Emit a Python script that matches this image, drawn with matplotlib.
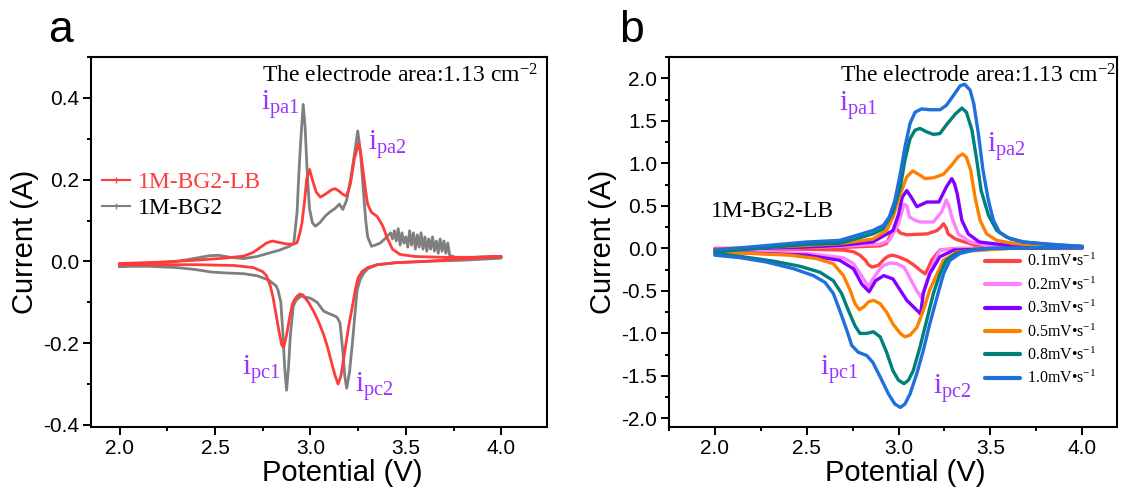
import matplotlib
matplotlib.use("Agg")
import matplotlib.pyplot as plt
from matplotlib.lines import Line2D
from matplotlib.ticker import MultipleLocator, FuncFormatter

plt.rcParams['font.family'] = ['Liberation Sans', 'DejaVu Sans']
plt.rcParams['mathtext.fontset'] = 'custom'
plt.rcParams['mathtext.rm'] = 'Liberation Serif'
plt.rcParams['mathtext.it'] = 'Liberation Serif:italic'
plt.rcParams['mathtext.bf'] = 'Liberation Serif:bold'

# ---------------- Panel a data ----------------
a_bg2_x = [2.00, 2.10, 2.20, 2.30, 2.40, 2.47, 2.52, 2.58, 2.65, 2.72, 2.78, 2.84, 2.89, 2.913,
           2.93, 2.94, 2.95, 2.962, 2.972, 2.983, 2.995, 3.01, 3.026, 3.05, 3.08, 3.10, 3.13,
           3.152, 3.17, 3.19, 3.21, 3.23, 3.248, 3.262, 3.277, 3.29, 3.30, 3.32, 3.34, 3.366,
           3.39, 3.42, 3.43, 3.44, 3.45, 3.46, 3.47, 3.48, 3.49, 3.50, 3.51, 3.52, 3.53, 3.54,
           3.55, 3.56, 3.57, 3.58, 3.59, 3.60, 3.61, 3.62, 3.63, 3.64, 3.65, 3.66, 3.67, 3.68,
           3.69, 3.70, 3.71, 3.72, 3.73, 3.76, 3.85, 3.95, 4.00,
           4.00, 3.80, 3.60, 3.45, 3.35, 3.30, 3.277, 3.26, 3.245, 3.235, 3.22, 3.205, 3.19,
           3.18, 3.17, 3.155, 3.14, 3.13, 3.10, 3.07, 3.035, 3.00, 2.95, 2.925, 2.91, 2.895,
           2.885, 2.875, 2.865, 2.855, 2.845, 2.83, 2.82, 2.78, 2.72, 2.65, 2.55, 2.48, 2.40,
           2.30, 2.15, 2.00]
a_bg2_y = [-0.012, -0.008, -0.004, 0.000, 0.008, 0.014, 0.015, 0.010, 0.007, 0.012, 0.020,
           0.028, 0.037, 0.045, 0.12, 0.22, 0.30, 0.384, 0.33, 0.22, 0.13, 0.095, 0.086, 0.095,
           0.112, 0.12, 0.13, 0.14, 0.127, 0.15, 0.20, 0.26, 0.319, 0.27, 0.176, 0.10, 0.06,
           0.037, 0.040, 0.045, 0.055, 0.07, 0.055, 0.075, 0.05, 0.08, 0.04, 0.07, 0.045, 0.06,
           0.035, 0.075, 0.04, 0.07, 0.03, 0.065, 0.035, 0.07, 0.03, 0.06, 0.025, 0.055, 0.03,
           0.06, 0.025, 0.05, 0.02, 0.055, 0.025, 0.05, 0.02, 0.045, 0.015, 0.01, 0.01, 0.012,
           0.012,
           0.008, 0.003, 0.0, -0.003, -0.008, -0.018, -0.03, -0.045, -0.07, -0.12, -0.20, -0.27,
           -0.31, -0.28, -0.22, -0.15, -0.137, -0.134, -0.128, -0.122, -0.10, -0.09, -0.085,
           -0.095, -0.11, -0.18, -0.26, -0.315, -0.26, -0.17, -0.10, -0.07, -0.06, -0.045,
           -0.035, -0.03, -0.028, -0.026, -0.02, -0.015, -0.012, -0.012]

a_lb_x = [2.00, 2.20, 2.40, 2.55, 2.65, 2.70, 2.74, 2.77, 2.80, 2.83, 2.87, 2.91, 2.93, 2.945,
          2.956, 2.97, 2.98, 2.996, 3.01, 3.03, 3.052, 3.08, 3.11, 3.13, 3.15, 3.17, 3.19,
          3.21, 3.23, 3.253, 3.265, 3.277, 3.29, 3.30, 3.32, 3.35, 3.38, 3.40, 3.43, 3.47,
          3.55, 3.70, 3.85, 4.00,
          4.00, 3.80, 3.60, 3.45, 3.35, 3.30, 3.27, 3.25, 3.235, 3.22, 3.20, 3.18, 3.16, 3.145,
          3.13, 3.115, 3.09, 3.07, 3.045, 3.02, 2.99, 2.96, 2.945, 2.93, 2.915, 2.905, 2.89,
          2.875, 2.86, 2.85, 2.835, 2.82, 2.805, 2.79, 2.77, 2.75, 2.70, 2.60, 2.40, 2.20, 2.00]
a_lb_y = [-0.005, -0.002, 0.003, 0.008, 0.013, 0.022, 0.035, 0.045, 0.05, 0.047, 0.043, 0.042,
          0.046, 0.07, 0.095, 0.15, 0.20, 0.225, 0.20, 0.17, 0.157, 0.165, 0.175, 0.178, 0.172,
          0.164, 0.16, 0.19, 0.25, 0.29, 0.26, 0.218, 0.17, 0.14, 0.12, 0.11, 0.086, 0.06,
          0.03, 0.017, 0.012, 0.01, 0.01, 0.012,
          0.012, 0.006, 0.0, -0.003, -0.008, -0.015, -0.025, -0.04, -0.07, -0.11, -0.16, -0.22,
          -0.28, -0.30, -0.28, -0.255, -0.21, -0.18, -0.15, -0.125, -0.10, -0.082, -0.08,
          -0.085, -0.095, -0.105, -0.14, -0.18, -0.21, -0.205, -0.17, -0.13, -0.09, -0.06,
          -0.035, -0.025, -0.015, -0.01, -0.008, -0.008, -0.008]

# ---------------- Panel b data (1M-BG2-LB at several scan rates) ----------------
rate_labels = ['0.1mV\u2022s$^{-1}$', '0.2mV\u2022s$^{-1}$', '0.3mV\u2022s$^{-1}$',
               '0.5mV\u2022s$^{-1}$', '0.8mV\u2022s$^{-1}$', '1.0mV\u2022s$^{-1}$']
rate_colors = ['#ff4444', '#ff80ff', '#8000ff', '#ff8000', '#00807a', '#1f6fdc']

b01_x = [2.00, 2.40, 2.68, 2.90, 2.935, 2.955, 2.97, 2.99, 3.01, 3.045, 3.10, 3.155, 3.21,
         3.23, 3.245, 3.26, 3.27, 3.31, 3.36, 3.44, 3.60, 4.00,
         4.00, 3.60, 3.32, 3.225, 3.18, 3.16, 3.145, 3.12, 3.08, 3.045, 3.00, 2.97, 2.945,
         2.925, 2.89, 2.855, 2.835, 2.82, 2.79, 2.755, 2.70, 2.50, 2.00]
b01_y = [0.0, 0.005, 0.01, 0.03, 0.06, 0.15, 0.21, 0.23, 0.18, 0.16, 0.165, 0.17, 0.21, 0.25,
         0.29, 0.24, 0.17, 0.11, 0.075, 0.024, 0.015, 0.01,
         0.0, 0.0, 0.0, -0.02, -0.14, -0.24, -0.30, -0.26, -0.19, -0.14, -0.10, -0.08, -0.09,
         -0.12, -0.20, -0.22, -0.19, -0.14, -0.08, -0.04, -0.02, -0.01, -0.005]

b02_x = [2.00, 2.40, 2.68, 2.90, 2.95, 3.00, 3.03, 3.045, 3.06, 3.09, 3.12, 3.19, 3.235,
         3.26, 3.275, 3.29, 3.325, 3.39, 3.50, 4.00,
         4.00, 3.60, 3.30, 3.225, 3.18, 3.145, 3.125, 3.10, 3.08, 3.03, 2.99, 2.955, 2.92,
         2.90, 2.86, 2.835, 2.81, 2.78, 2.755, 2.70, 2.50, 2.00]
b02_y = [-0.01, 0.005, 0.025, 0.05, 0.094, 0.29, 0.52, 0.50, 0.37, 0.33, 0.31, 0.31, 0.43,
         0.57, 0.50, 0.37, 0.17, 0.075, 0.03, 0.015,
         0.01, 0.005, -0.005, -0.02, -0.22, -0.45, -0.58, -0.50, -0.42, -0.22, -0.18, -0.17,
         -0.20, -0.24, -0.36, -0.45, -0.36, -0.26, -0.18, -0.11, -0.06, -0.02]

b03_x = [2.00, 2.50, 2.68, 2.86, 2.97, 3.00, 3.02, 3.045, 3.07, 3.10, 3.155, 3.22, 3.26,
         3.29, 3.305, 3.32, 3.345, 3.38, 3.44, 3.60, 4.00,
         4.00, 3.60, 3.30, 3.225, 3.17, 3.135, 3.12, 3.045, 2.97, 2.92, 2.875, 2.84, 2.80,
         2.755, 2.68, 2.50, 2.00]
b03_y = [-0.015, 0.016, 0.035, 0.075, 0.21, 0.40, 0.60, 0.68, 0.60, 0.49, 0.545, 0.545,
         0.72, 0.82, 0.76, 0.64, 0.33, 0.17, 0.075, 0.035, 0.02,
         0.01, 0.0, -0.02, -0.10, -0.30, -0.53, -0.77, -0.61, -0.36, -0.32, -0.38, -0.51,
         -0.42, -0.24, -0.14, -0.08, -0.04]

b05_x = [2.00, 2.50, 2.68, 2.86, 2.935, 2.97, 3.01, 3.045, 3.077, 3.11, 3.145, 3.19, 3.244,
         3.29, 3.326, 3.35, 3.37, 3.393, 3.417, 3.444, 3.48, 3.535, 3.62, 3.77, 4.00,
         4.00, 3.60, 3.32, 3.244, 3.21, 3.17, 3.135, 3.10, 3.063, 3.035, 3.01, 2.97, 2.935,
         2.90, 2.863, 2.836, 2.81, 2.787, 2.763, 2.736, 2.70, 2.645, 2.554, 2.41, 2.00]
b05_y = [-0.02, 0.035, 0.055, 0.11, 0.21, 0.37, 0.64, 0.84, 0.91, 0.87, 0.82, 0.83, 0.87,
         0.98, 1.08, 1.11, 1.07, 0.92, 0.60, 0.33, 0.17, 0.094, 0.06, 0.035, 0.02,
         0.01, 0.0, -0.04, -0.14, -0.30, -0.49, -0.73, -0.93, -1.02, -1.04, -1.00, -0.89,
         -0.75, -0.65, -0.61, -0.63, -0.69, -0.72, -0.65, -0.49, -0.32, -0.18, -0.12, -0.08,
         -0.04]

b08_x = [2.00, 2.50, 2.68, 2.86, 2.917, 2.97, 3.01, 3.035, 3.063, 3.09, 3.117, 3.153, 3.19,
         3.226, 3.26, 3.31, 3.345, 3.37, 3.40, 3.426, 3.45, 3.49, 3.535, 3.59, 3.68, 3.85,
         4.00,
         4.00, 3.50, 3.40, 3.317, 3.26, 3.226, 3.19, 3.153, 3.117, 3.08, 3.054, 3.03, 3.00,
         2.97, 2.935, 2.90, 2.863, 2.827, 2.79, 2.763, 2.727, 2.69, 2.645, 2.572, 2.463,
         2.318, 2.14, 2.00]
b08_y = [-0.04, 0.047, 0.06, 0.17, 0.23, 0.43, 0.72, 1.04, 1.29, 1.39, 1.41, 1.37, 1.34,
         1.35, 1.45, 1.58, 1.65, 1.60, 1.39, 1.04, 0.68, 0.39, 0.21, 0.13, 0.075, 0.04,
         0.024,
         0.01, 0.0, -0.015, -0.055, -0.14, -0.30, -0.53, -0.85, -1.16, -1.44, -1.55, -1.59,
         -1.55, -1.44, -1.22, -1.04, -0.98, -1.00, -1.00, -0.91, -0.73, -0.53, -0.38, -0.28,
         -0.21, -0.15, -0.095, -0.06]

b10_x = [2.00, 2.50, 2.68, 2.86, 2.917, 2.95, 2.98, 3.01, 3.035, 3.063, 3.09, 3.126, 3.17,
         3.226, 3.26, 3.30, 3.335, 3.36, 3.39, 3.41, 3.435, 3.46, 3.49, 3.517, 3.55, 3.61,
         3.68, 3.85, 4.00,
         4.00, 3.50, 3.41, 3.335, 3.28, 3.245, 3.21, 3.17, 3.135, 3.10, 3.063, 3.035, 3.01,
         2.98, 2.945, 2.90, 2.86, 2.827, 2.78, 2.745, 2.718, 2.68, 2.645, 2.60, 2.536, 2.43,
         2.28, 2.14, 2.00]
b10_y = [-0.02, 0.075, 0.094, 0.21, 0.27, 0.37, 0.56, 0.88, 1.19, 1.47, 1.60, 1.64, 1.63,
         1.63, 1.68, 1.80, 1.91, 1.93, 1.86, 1.70, 1.35, 0.92, 0.56, 0.33, 0.19, 0.11,
         0.075, 0.045, 0.024,
         0.01, 0.0, -0.02, -0.06, -0.14, -0.30, -0.57, -0.89, -1.20, -1.47, -1.71, -1.83,
         -1.87, -1.83, -1.71, -1.51, -1.34, -1.26, -1.22, -1.14, -0.96, -0.73, -0.53, -0.40,
         -0.32, -0.24, -0.16, -0.11, -0.08]

b_x = [b01_x, b02_x, b03_x, b05_x, b08_x, b10_x]
b_y = [b01_y, b02_y, b03_y, b05_y, b08_y, b10_y]

purple = '#9933ff'
serif = 'Liberation Serif'

fig = plt.figure(figsize=(11.25, 4.95), dpi=100)
axa = fig.add_axes([91 / 1125, 1 - 427 / 495, 456 / 1125, 370 / 495])
axb = fig.add_axes([669 / 1125, 1 - 427 / 495, 448 / 1125, 370 / 495])

fmt = FuncFormatter(lambda v, p: f'{v:.1f}'.replace('-0.0', '0.0'))


def style_axes(ax, xlim, ylim, ymaj, ymin):
    ax.set_xlim(*xlim)
    ax.set_ylim(*ylim)
    ax.xaxis.set_major_locator(MultipleLocator(0.5))
    ax.xaxis.set_minor_locator(MultipleLocator(0.25))
    ax.yaxis.set_major_locator(MultipleLocator(ymaj))
    ax.yaxis.set_minor_locator(MultipleLocator(ymin))
    ax.yaxis.set_major_formatter(fmt)
    ax.tick_params(which='both', direction='out', top=False, right=False, width=1.4,
                   labelsize=15, pad=3)
    ax.tick_params(which='major', length=5.5)
    ax.tick_params(which='minor', length=3)
    for s in ax.spines.values():
        s.set_linewidth(1.5)


def peak_label(ax, x, y, sub):
    ax.text(x, y, r'$\mathrm{i_{%s}}$' % sub, color=purple, fontsize=21,
            ha='left', va='baseline')


# ---------------- Panel a ----------------
axa.plot(a_bg2_x, a_bg2_y, color='#7f7f7f', lw=2.0, solid_joinstyle='round')
axa.plot(a_lb_x, a_lb_y, color='#ff3c3c', lw=2.0, solid_joinstyle='round')
style_axes(axa, (1.85, 4.24), (-0.405, 0.5), 0.2, 0.1)
axa.set_xlabel('Potential (V)', fontsize=21, x=0.55, labelpad=1)
axa.set_ylabel('Current (A)', fontsize=21, labelpad=3)

handles_a = [Line2D([], [], color='#ff3c3c', lw=1.5, marker='|', markersize=4),
             Line2D([], [], color='#7f7f7f', lw=1.5, marker='|', markersize=4)]
leg = axa.legend(handles_a, ['1M-BG2-LB', '1M-BG2'], loc='upper left',
                 bbox_to_anchor=(0.025, 0.69), frameon=False, borderpad=0, borderaxespad=0,
                 handlelength=1.15, handletextpad=0.35, labelspacing=0.2,
                 prop={'family': serif, 'size': 17})
leg.get_texts()[0].set_color('#ff3c3c')
leg.get_texts()[1].set_color('black')

axa.text(0.375, 0.93, 'The electrode area:1.13 cm$^{-2}$', transform=axa.transAxes,
         family=serif, fontsize=17, ha='left', va='baseline')
peak_label(axa, 2.74, 0.37, 'pa1')
peak_label(axa, 3.30, 0.274, 'pa2')
peak_label(axa, 2.644, -0.277, 'pc1')
peak_label(axa, 3.235, -0.32, 'pc2')

# ---------------- Panel b ----------------
for xs, ys, c, lab in zip(b_x, b_y, rate_colors, rate_labels):
    axb.plot(xs, ys, color=c, lw=2.4, label=lab, solid_joinstyle='round',
             solid_capstyle='round')
style_axes(axb, (1.75, 4.19), (-2.1, 2.25), 0.5, 0.25)
axb.set_xlabel('Potential (V)', fontsize=21, x=0.527, labelpad=1)
axb.set_ylabel('Current (A)', fontsize=21, labelpad=3)
axb.legend(loc='upper left', bbox_to_anchor=(0.705, 0.47), frameon=False, borderpad=0,
           borderaxespad=0, handlelength=2.2, handletextpad=0.45, labelspacing=0.38,
           prop={'family': serif, 'size': 11.5})
for line in axb.get_legend().get_lines():
    line.set_linewidth(3)

axb.text(0.382, 0.93, 'The electrode area:1.13 cm$^{-2}$', transform=axb.transAxes,
         family=serif, fontsize=17, ha='left', va='baseline', clip_on=False)
axb.text(1.98, 0.37, '1M-BG2-LB', family=serif, fontsize=17, ha='left', va='baseline')
peak_label(axb, 2.676, 1.62, 'pa1')
peak_label(axb, 3.484, 1.13, 'pa2')
peak_label(axb, 2.572, -1.49, 'pc1')
peak_label(axb, 3.19, -1.71, 'pc2')

fig.text(60 / 1125, 1 - 42 / 495, 'a', fontsize=32, ha='center', va='baseline')
fig.text(632 / 1125, 1 - 42 / 495, 'b', fontsize=32, ha='center', va='baseline')

fig.savefig('out.png', dpi=100)
